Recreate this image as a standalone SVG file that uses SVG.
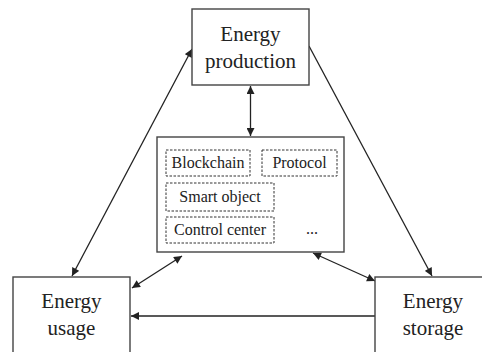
<svg xmlns="http://www.w3.org/2000/svg" width="482" height="352" viewBox="0 0 482 352">
<defs>
<marker id="ah" viewBox="0 0 10 10" refX="10" refY="5" markerWidth="10" markerHeight="8" markerUnits="userSpaceOnUse" orient="auto-start-reverse">
<path d="M0,0 L10,5 L0,10 z" fill="#222"/>
</marker>
<style>
.box{fill:#fff;stroke:#444;stroke-width:1.4}
.dbox{fill:#fff;stroke:#333;stroke-width:1;stroke-dasharray:2.5 1.5}
.lbl{font-size:21px;fill:#222;text-anchor:middle}
.sl{font-size:16px;fill:#222;text-anchor:middle}
.c{fill:none;stroke:#222;stroke-width:1.3}
</style>
</defs>
<g id="connectors">
<line class="c" x1="250.5" y1="86" x2="250.5" y2="136" marker-start="url(#ah)" marker-end="url(#ah)"/>
<line class="c" x1="309" y1="46" x2="432" y2="276" marker-end="url(#ah)"/>
<line class="c" x1="72" y1="276" x2="192" y2="49" marker-start="url(#ah)" marker-end="url(#ah)"/>
<line class="c" x1="132" y1="288" x2="182" y2="256" marker-start="url(#ah)" marker-end="url(#ah)"/>
<line class="c" x1="313" y1="253" x2="375" y2="281" marker-start="url(#ah)" marker-end="url(#ah)"/>
<line class="c" x1="375" y1="316" x2="131" y2="316" marker-end="url(#ah)"/>
</g>
<g font-family="'Liberation Serif', 'Times New Roman', 'DejaVu Serif', serif">
<g id="production">
<rect class="box" x="192" y="9" width="117" height="76"/>
<text class="lbl" x="250.5" y="41">Energy</text>
<text class="lbl" x="250.5" y="68">production</text>
</g>
<g id="platform">
<rect class="box" x="157" y="137" width="187" height="115"/>
<g id="blockchain">
<rect class="dbox" x="166" y="150" width="84" height="26"/>
<text class="sl" x="208" y="168">Blockchain</text>
</g>
<g id="protocol">
<rect class="dbox" x="262" y="150" width="75" height="26"/>
<text class="sl" x="299.5" y="168">Protocol</text>
</g>
<g id="smartobject">
<rect class="dbox" x="166" y="183" width="108" height="28"/>
<text class="sl" x="220" y="202">Smart object</text>
</g>
<g id="controlcenter">
<rect class="dbox" x="166" y="217" width="108" height="26"/>
<text class="sl" x="220" y="235">Control center</text>
</g>
<text class="sl" x="312" y="234">...</text>
</g>
<g id="usage">
<rect class="box" x="13" y="277" width="117" height="90"/>
<text class="lbl" x="71.5" y="308">Energy</text>
<text class="lbl" x="71.5" y="335">usage</text>
</g>
<g id="storage">
<rect class="box" x="375" y="277" width="117" height="90"/>
<text class="lbl" x="433" y="308">Energy</text>
<text class="lbl" x="433" y="335">storage</text>
</g>
</g>
</svg>
